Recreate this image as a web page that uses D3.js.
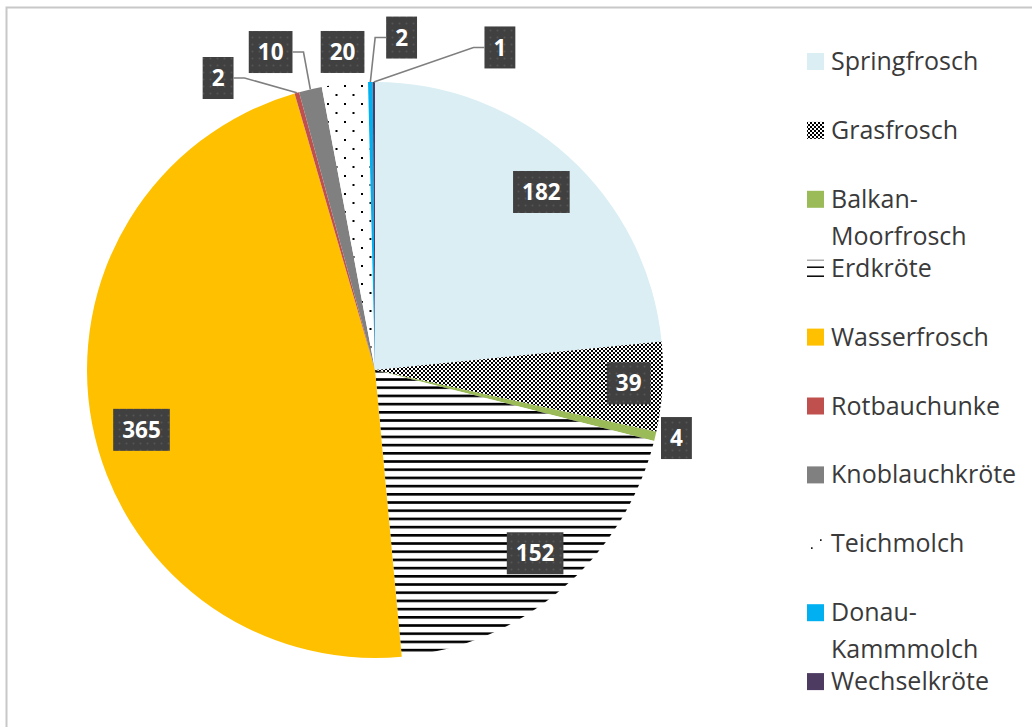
<!DOCTYPE html>
<html><head><meta charset="utf-8">
<script src="https://cdn.jsdelivr.net/npm/d3@7"></script>
<style>body{margin:0;background:#fff} svg{display:block} text{font-family:"Open Sans",sans-serif}</style>
</head><body><svg id="c" width="1032" height="727"></svg>
<script>
// ---- data ----
const categories = ["Springfrosch","Grasfrosch","Balkan-Moorfrosch","Erdkröte","Wasserfrosch","Rotbauchunke","Knoblauchkröte","Teichmolch","Donau-Kammmolch","Wechselkröte"];
const legendLabels = [["Springfrosch"],["Grasfrosch"],["Balkan-","Moorfrosch"],["Erdkröte"],["Wasserfrosch"],["Rotbauchunke"],["Knoblauchkröte"],["Teichmolch"],["Donau-","Kammmolch"],["Wechselkröte"]];
const values = [182,39,4,152,365,2,10,20,2,1];

// ---- style ----
const fills = ["#DAEEF3","url(#pChecker)","#9BBB59","url(#pHLines)","#FFC000","#C0504D","#808080","url(#pDots)","#00B0F0","#4E3B62"];
// label placement relative to slice mid angle (deg) and radius factor
const labelLayout = [
  {da:0.9,k:0.846},{da:-0.35,k:0.882},{da:-0.6,k:1.073},{da:-0.6,k:0.845},{da:-3.6,k:0.837},
  {da:-12.5,k:1.151,leader:true},{da:-5.2,k:1.162,leader:true},{da:0.2,k:1.11},
  {da:5.5,k:1.158,leader:true},{da:21.4,k:1.201,leader:true}
];

const W=1032,H=727, cx=375, cy=370, R=288;
const svg=d3.select("#c");
const defs=svg.append("defs");

// checkerboard
const pc=defs.append("pattern").attr("id","pChecker").attr("patternUnits","userSpaceOnUse").attr("width",4).attr("height",4);
pc.append("rect").attr("width",4).attr("height",4).attr("fill","#fff");
pc.append("rect").attr("width",2).attr("height",2).attr("fill","#000");
pc.append("rect").attr("x",2).attr("y",2).attr("width",2).attr("height",2).attr("fill","#000");
// horizontal lines
const ph=defs.append("pattern").attr("id","pHLines").attr("patternUnits","userSpaceOnUse").attr("width",8).attr("height",8.2);
ph.append("rect").attr("width",8).attr("height",8.2).attr("fill","#fff");
ph.append("rect").attr("y",0).attr("width",8).attr("height",2.6).attr("fill","#000");
// dots
const pd=defs.append("pattern").attr("id","pDots").attr("patternUnits","userSpaceOnUse").attr("width",17).attr("height",18);
pd.append("rect").attr("width",17).attr("height",18).attr("fill","#fff");
pd.append("rect").attr("x",3).attr("y",3).attr("width",2).attr("height",2).attr("fill","#000");
pd.append("rect").attr("x",11.5).attr("y",12).attr("width",2).attr("height",2).attr("fill","#000");
// label box texture
const pb=defs.append("pattern").attr("id","pBox").attr("patternUnits","userSpaceOnUse").attr("width",7).attr("height",7);
pb.append("rect").attr("width",7).attr("height",7).attr("fill","#404040");
pb.append("circle").attr("cx",3.5).attr("cy",3.5).attr("r",1).attr("fill","#555");

// border
svg.append("rect").attr("x",6.5).attr("y",7.5).attr("width",W).attr("height",H).attr("fill","none").attr("stroke","#c8c8c8").attr("stroke-width",2);

// ---- pie ----
const data = categories.map((c,i)=>({name:c,value:values[i],i}));
const pie=d3.pie().sort(null).value(d=>d.value).startAngle(0).endAngle(2*Math.PI);
const arcs=pie(data);
const arc=d3.arc().innerRadius(0).outerRadius(R);
const g=svg.append("g").attr("transform",`translate(${cx},${cy})`);
g.selectAll("path").data(arcs).join("path").attr("d",arc).attr("fill",d=>fills[d.data.i]);

const polar=(aDeg,r)=>{const a=aDeg*Math.PI/180;return [r*Math.sin(a), -r*Math.cos(a)];};

// ---- labels ----
const lg=svg.append("g").attr("transform",`translate(${cx},${cy})`);
arcs.forEach(d=>{
  const L=labelLayout[d.data.i];
  const mid=(d.startAngle+d.endAngle)/2*180/Math.PI;
  const [x,y]=polar(mid+L.da, R*L.k);
  const t=lg.append("text").attr("x",x).attr("y",y).attr("dy","0.36em").attr("text-anchor","middle")
    .attr("font-size",22.5).attr("font-weight",700).attr("fill","#fff").text(d.data.value);
  const tw=t.node().getComputedTextLength();
  const bw=tw+18, bh=42;
  lg.insert("rect","text").attr("x",x-bw/2).attr("y",y-bh/2).attr("width",bw).attr("height",bh).attr("fill","url(#pBox)");
  if(L.leader){
    const [sx,sy]=polar(mid,R);
    const side = x < sx ? x+bw/2 : x-bw/2;
    const elbow = x < sx ? side+11 : side-11;
    lg.append("polyline").attr("points",`${sx},${sy} ${elbow},${y} ${side},${y}`)
      .attr("fill","none").attr("stroke","#7f7f7f").attr("stroke-width",1.6);
  }
});

// ---- legend ----
const ly=d3.scalePoint().domain(categories).range([61.5,681.6]);
const leg=svg.append("g");
categories.forEach((c,i)=>{
  const y=ly(c);
  const mx=807, my=y-8.5, s=17;
  if(c==="Erdkröte"){
    leg.append("line").attr("x1",mx).attr("x2",mx+s).attr("y1",my+0.5).attr("y2",my+0.5).attr("stroke","#999").attr("stroke-width",1.2);
    leg.append("line").attr("x1",mx).attr("x2",mx+s).attr("y1",my+7.5).attr("y2",my+7.5).attr("stroke","#000").attr("stroke-width",1.5);
    leg.append("line").attr("x1",mx).attr("x2",mx+s).attr("y1",my+16.5).attr("y2",my+16.5).attr("stroke","#000").attr("stroke-width",1.5);
  } else if(c==="Teichmolch"){
    leg.append("rect").attr("x",mx+4).attr("y",my+12).attr("width",1.6).attr("height",1.6).attr("fill","#000");
    leg.append("rect").attr("x",mx+13).attr("y",my+4).attr("width",1.6).attr("height",1.6).attr("fill","#000");
  } else {
    leg.append("rect").attr("x",mx).attr("y",my).attr("width",s).attr("height",s).attr("fill",fills[i]);
  }
  const t=leg.append("text").attr("x",831).attr("y",y+8.5).attr("font-size",25).attr("fill","#3a3a3a");
  legendLabels[i].forEach((ln,j)=>{
    t.append("tspan").attr("x",831).attr("y",y+8.5+j*37).text(ln);
  });
});
</script></body></html>
